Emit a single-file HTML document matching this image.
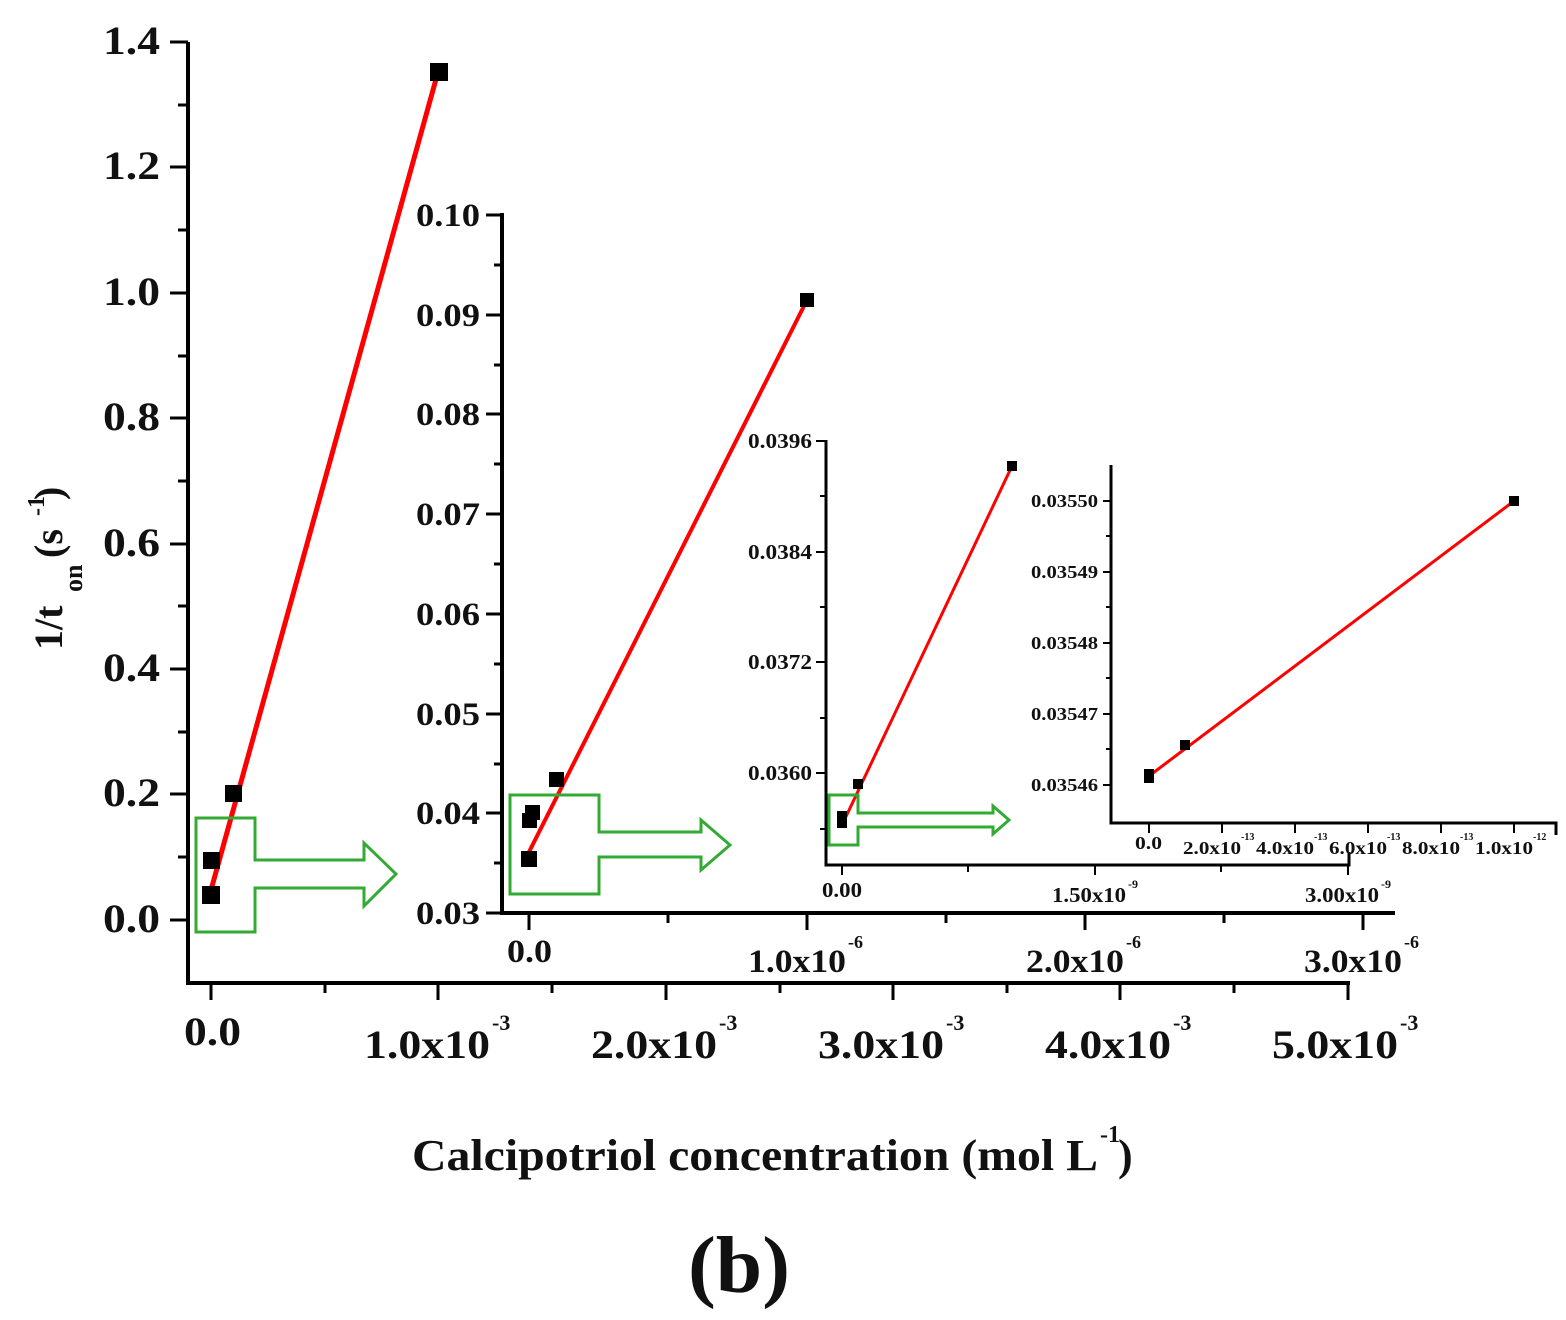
<!DOCTYPE html><html><head><style>body{margin:0;background:#fff}svg{display:block}text{font-family:"Liberation Serif",serif;font-weight:bold;fill:#111}</style></head><body>
<svg width="1566" height="1320" viewBox="0 0 1566 1320">
<g stroke="#000" stroke-width="4" fill="none">
<path d="M188,42 V983 H1350"/>
</g>
<g stroke="#000" stroke-width="3">
<path d="M170,42H188M170,167H188M170,293H188M170,418H188M170,544H188M170,669H188M170,794H188M170,920H188"/>
<path d="M178,105H188M178,230H188M178,356H188M178,481H188M178,606H188M178,732H188M178,857H188"/>
<path d="M211,983V1000M438,983V1000M666,983V1000M893,983V1000M1120,983V1000M1348,983V1000"/>
<path d="M325,983V993M552,983V993M780,983V993M1007,983V993M1234,983V993"/>
</g>
<g font-size="40" lengthAdjust="spacingAndGlyphs">
<text x="103" y="54" textLength="57" lengthAdjust="spacingAndGlyphs">1.4</text>
<text x="103" y="179" textLength="57" lengthAdjust="spacingAndGlyphs">1.2</text>
<text x="103" y="305" textLength="57" lengthAdjust="spacingAndGlyphs">1.0</text>
<text x="103" y="430" textLength="57" lengthAdjust="spacingAndGlyphs">0.8</text>
<text x="103" y="556" textLength="57" lengthAdjust="spacingAndGlyphs">0.6</text>
<text x="103" y="681" textLength="57" lengthAdjust="spacingAndGlyphs">0.4</text>
<text x="103" y="806" textLength="57" lengthAdjust="spacingAndGlyphs">0.2</text>
<text x="103" y="932" textLength="57" lengthAdjust="spacingAndGlyphs">0.0</text>
</g>
<g font-size="40">
<text x="184" y="1045" textLength="57" lengthAdjust="spacingAndGlyphs">0.0</text>
<text x="364" y="1058" textLength="126" lengthAdjust="spacingAndGlyphs">1.0x10</text><text x="492" y="1030" font-size="22">-3</text>
<text x="591" y="1058" textLength="126" lengthAdjust="spacingAndGlyphs">2.0x10</text><text x="719" y="1030" font-size="22">-3</text>
<text x="818" y="1058" textLength="126" lengthAdjust="spacingAndGlyphs">3.0x10</text><text x="946" y="1030" font-size="22">-3</text>
<text x="1045" y="1058" textLength="126" lengthAdjust="spacingAndGlyphs">4.0x10</text><text x="1173" y="1030" font-size="22">-3</text>
<text x="1272" y="1058" textLength="126" lengthAdjust="spacingAndGlyphs">5.0x10</text><text x="1400" y="1030" font-size="22">-3</text>
</g>
<text x="412" y="1170" font-size="44" textLength="686" lengthAdjust="spacingAndGlyphs">Calcipotriol concentration (mol L</text><text x="1100" y="1142" font-size="24">-1</text><text x="1118" y="1170" font-size="44">)</text>
<text x="688" y="1292" font-size="80" textLength="102" lengthAdjust="spacingAndGlyphs">(b)</text>
<g transform="translate(62,650) rotate(-90)"><text x="0" y="0" font-size="40">1/t</text><text x="58" y="20" font-size="26">on</text><text x="92" y="0" font-size="40">(s</text><text x="134" y="-18" font-size="24">-1</text><text x="150" y="0" font-size="40">)</text></g>
<line x1="211" y1="890" x2="438" y2="72" stroke="#f00" stroke-width="5"/>
<g fill="#000"><rect x="202" y="886" width="18" height="18"/><rect x="203" y="852" width="17" height="17"/><rect x="225" y="785" width="17" height="17"/><rect x="430" y="63" width="18" height="18"/></g>
<path d="M196,818H255V860H364V843L396,874L364,906V888H255V932H196Z" fill="none" stroke="#3a3" stroke-width="3"/>
<rect x="503" y="215" width="900" height="698" fill="#fff"/>
<path d="M502,213V913H1395" fill="none" stroke="#000" stroke-width="4"/>
<g stroke="#000" stroke-width="3">
<path d="M486,215H502M486,315H502M486,414H502M486,514H502M486,614H502M486,714H502M486,813H502M486,913H502"/>
<path d="M494,265H502M494,365H502M494,464H502M494,564H502M494,664H502M494,764H502M494,863H502"/>
<path d="M529,913V930M807,913V930M1085,913V930M1363,913V930M668,913V923M946,913V923M1224,913V923"/>
</g>
<g font-size="33">
<text x="416" y="226" textLength="64" lengthAdjust="spacingAndGlyphs">0.10</text>
<text x="416" y="326" textLength="64" lengthAdjust="spacingAndGlyphs">0.09</text>
<text x="416" y="425" textLength="64" lengthAdjust="spacingAndGlyphs">0.08</text>
<text x="416" y="525" textLength="64" lengthAdjust="spacingAndGlyphs">0.07</text>
<text x="416" y="625" textLength="64" lengthAdjust="spacingAndGlyphs">0.06</text>
<text x="416" y="725" textLength="64" lengthAdjust="spacingAndGlyphs">0.05</text>
<text x="416" y="824" textLength="64" lengthAdjust="spacingAndGlyphs">0.04</text>
<text x="416" y="924" textLength="64" lengthAdjust="spacingAndGlyphs">0.03</text>
</g>
<g font-size="33">
<text x="507" y="962" textLength="45" lengthAdjust="spacingAndGlyphs">0.0</text>
<text x="748" y="972" textLength="98" lengthAdjust="spacingAndGlyphs">1.0x10</text><text x="848" y="948" font-size="18">-6</text>
<text x="1026" y="972" textLength="98" lengthAdjust="spacingAndGlyphs">2.0x10</text><text x="1126" y="948" font-size="18">-6</text>
<text x="1304" y="972" textLength="98" lengthAdjust="spacingAndGlyphs">3.0x10</text><text x="1404" y="948" font-size="18">-6</text>
</g>
<line x1="529" y1="852" x2="807" y2="300" stroke="#f00" stroke-width="4"/>
<g fill="#000"><rect x="521" y="851" width="16" height="16"/><rect x="522" y="813" width="15" height="15"/><rect x="525" y="805" width="15" height="15"/><rect x="549" y="772" width="15" height="15"/><rect x="800" y="293" width="14" height="14"/></g>
<path d="M510,795H599V832H701V820L730,845L701,870V857H599V894H510Z" fill="none" stroke="#3a3" stroke-width="3"/>
<rect x="827" y="440" width="540" height="425" fill="#fff"/>
<path d="M826,440V865H1349V852" fill="none" stroke="#000" stroke-width="3"/>
<g stroke="#000" stroke-width="2">
<path d="M816,441H826M816,552H826M816,662H826M816,773H826M820,496H826M820,607H826M820,718H826M820,829H826"/>
<path d="M842,865V875M1095,865V875M1348,865V875M968,865V872M1221,865V872"/>
</g>
<g font-size="21">
<text x="748" y="448" textLength="64" lengthAdjust="spacingAndGlyphs">0.0396</text>
<text x="748" y="559" textLength="64" lengthAdjust="spacingAndGlyphs">0.0384</text>
<text x="748" y="669" textLength="64" lengthAdjust="spacingAndGlyphs">0.0372</text>
<text x="748" y="780" textLength="64" lengthAdjust="spacingAndGlyphs">0.0360</text>
</g>
<g font-size="21">
<text x="822" y="897" textLength="40" lengthAdjust="spacingAndGlyphs">0.00</text>
<text x="1052" y="902" textLength="74" lengthAdjust="spacingAndGlyphs">1.50x10</text><text x="1128" y="888" font-size="12">-9</text>
<text x="1305" y="902" textLength="74" lengthAdjust="spacingAndGlyphs">3.00x10</text><text x="1381" y="888" font-size="12">-9</text>
</g>
<line x1="842" y1="825" x2="1012" y2="466" stroke="#f00" stroke-width="3"/>
<g fill="#000"><rect x="837" y="811" width="10" height="17"/><rect x="853" y="779" width="10" height="10"/><rect x="1007" y="461" width="10" height="10"/></g>
<path d="M829,795H858V813H993V806L1009,820L993,834V827H858V845H829Z" fill="none" stroke="#3a3" stroke-width="3"/>
<path d="M1111,465V823H1556V835" fill="none" stroke="#000" stroke-width="3"/>
<g stroke="#000" stroke-width="2">
<path d="M1103,501H1111M1103,572H1111M1103,643H1111M1103,714H1111M1103,785H1111M1106,536H1111M1106,607H1111M1106,678H1111M1106,749H1111"/>
<path d="M1149,823V833M1222,823V833M1295,823V833M1368,823V833M1441,823V833M1514,823V833"/>
</g>
<g font-size="18">
<text x="1031" y="507" textLength="67" lengthAdjust="spacingAndGlyphs">0.03550</text>
<text x="1031" y="578" textLength="67" lengthAdjust="spacingAndGlyphs">0.03549</text>
<text x="1031" y="649" textLength="67" lengthAdjust="spacingAndGlyphs">0.03548</text>
<text x="1031" y="720" textLength="67" lengthAdjust="spacingAndGlyphs">0.03547</text>
<text x="1031" y="791" textLength="67" lengthAdjust="spacingAndGlyphs">0.03546</text>
</g>
<g font-size="18">
<text x="1135" y="849" textLength="27" lengthAdjust="spacingAndGlyphs">0.0</text>
<text x="1183" y="854" textLength="58" lengthAdjust="spacingAndGlyphs">2.0x10</text><text x="1241" y="840" font-size="10">-13</text>
<text x="1256" y="854" textLength="58" lengthAdjust="spacingAndGlyphs">4.0x10</text><text x="1314" y="840" font-size="10">-13</text>
<text x="1329" y="854" textLength="58" lengthAdjust="spacingAndGlyphs">6.0x10</text><text x="1387" y="840" font-size="10">-13</text>
<text x="1402" y="854" textLength="58" lengthAdjust="spacingAndGlyphs">8.0x10</text><text x="1460" y="840" font-size="10">-13</text>
<text x="1475" y="854" textLength="58" lengthAdjust="spacingAndGlyphs">1.0x10</text><text x="1533" y="840" font-size="10">-12</text>
</g>
<line x1="1149" y1="776" x2="1514" y2="501" stroke="#f00" stroke-width="3"/>
<g fill="#000"><rect x="1144" y="769" width="10" height="14"/><rect x="1180" y="740" width="10" height="10"/><rect x="1509" y="496" width="10" height="10"/></g>
</svg>
</body></html>
